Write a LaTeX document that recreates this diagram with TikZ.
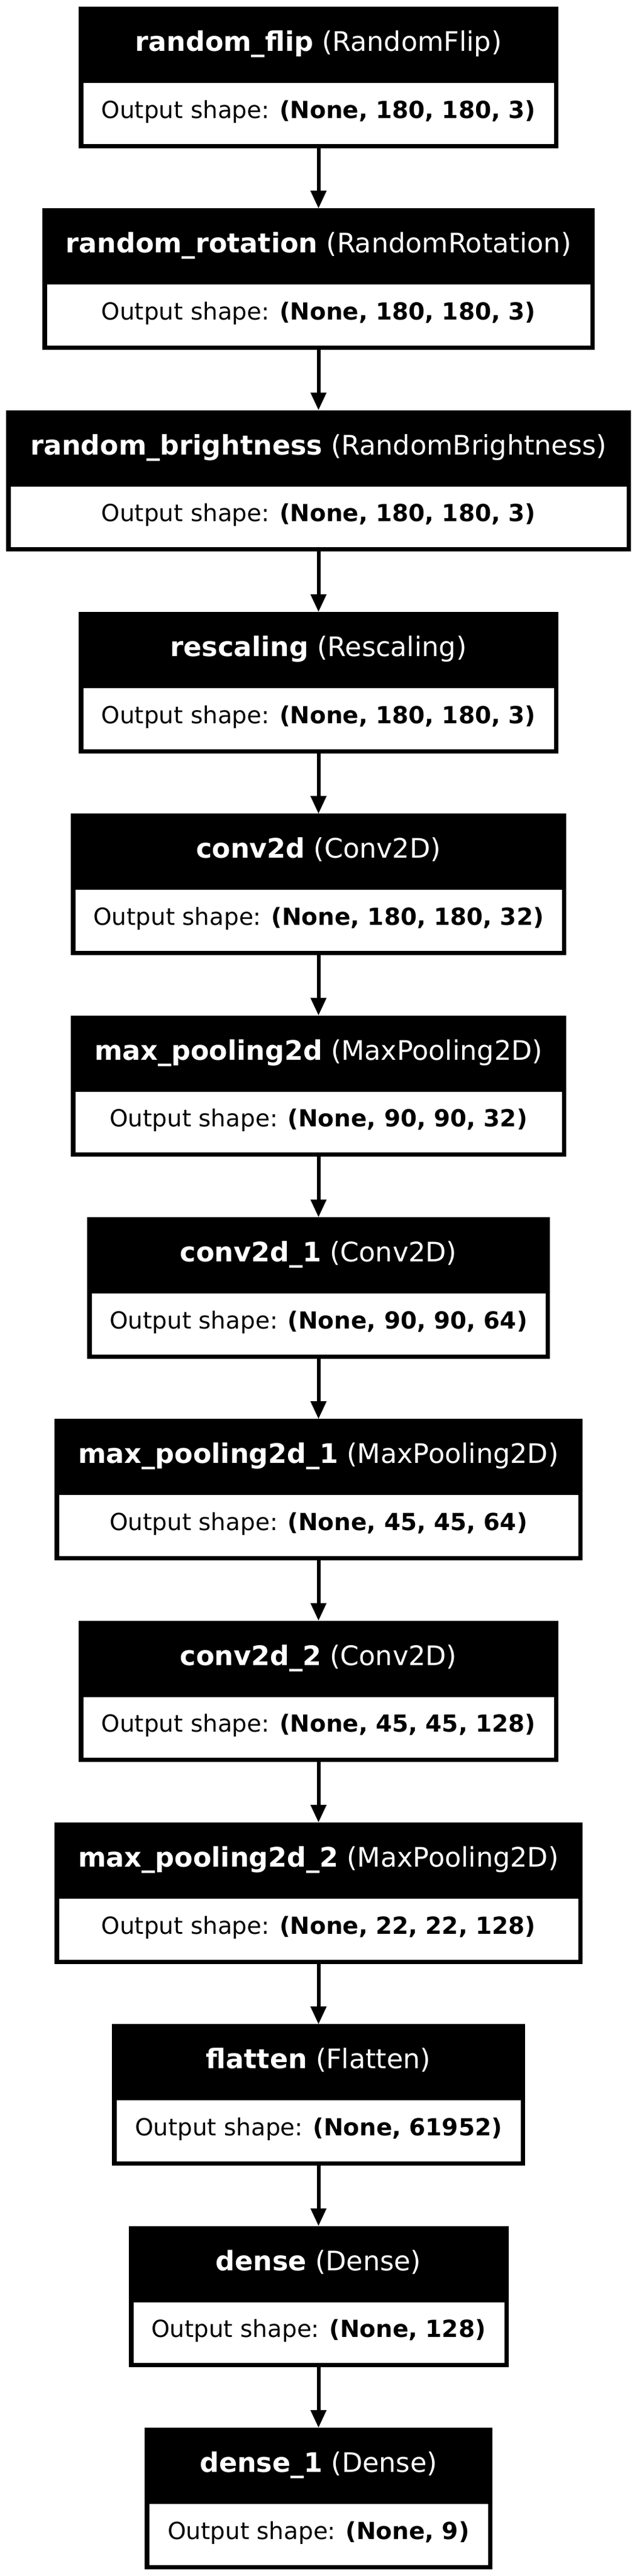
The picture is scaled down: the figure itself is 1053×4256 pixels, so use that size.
\documentclass[tikz,border=0pt]{standalone}
\usepackage{fontspec}
\setmainfont{DejaVu Sans}
\usetikzlibrary{arrows.meta}
\tikzset{
  layerbox/.style={rectangle, fill=black, inner sep=0pt, outer sep=0pt, minimum height=233.5*0.36pt},
  txt/.style={anchor=base, inner sep=0pt, outer sep=0pt, font=\fontsize{14}{17}\selectfont},
  headtxt/.style={txt, text=white, font=\fontsize{16}{19}\selectfont},
  conn/.style={line width=2.16pt, -{Triangle[length=10.5pt,width=9pt]}}
}
\newcommand{\kerasbox}[6]{%
  \pgfmathsetmacro{\kt}{11+#2*333.333}%
  \pgfmathsetmacro{\kw}{2*(526.5-#3)}%
  \node[layerbox, minimum width=\kw*0.36pt, anchor=north] (#1) at (526.5,\kt) {};
  \fill[white] (#3+8,\kt+126) rectangle (1053-#3-7,\kt+226.5);
  \node[headtxt] (#1h) at (526.5,\kt+73.5) {\textbf{#4} (#5)};
  \node[txt] (#1o) at (526.5,\kt+184) {Output shape: \textbf{#6}};
}
\begin{document}
\begin{tikzpicture}[x=0.36pt, y=-0.36pt]
\useasboundingbox (0,0) rectangle (1053,4256);
\kerasbox{b1}{0}{130}{random\_flip}{RandomFlip}{(None, 180, 180, 3)}
\kerasbox{b2}{1}{69.6}{random\_rotation}{RandomRotation}{(None, 180, 180, 3)}
\kerasbox{b3}{2}{9.6}{random\_brightness}{RandomBrightness}{(None, 180, 180, 3)}
\kerasbox{b4}{3}{130}{rescaling}{Rescaling}{(None, 180, 180, 3)}
\kerasbox{b5}{4}{117}{conv2d}{Conv2D}{(None, 180, 180, 32)}
\kerasbox{b6}{5}{117}{max\_pooling2d}{MaxPooling2D}{(None, 90, 90, 32)}
\kerasbox{b7}{6}{144.3}{conv2d\_1}{Conv2D}{(None, 90, 90, 64)}
\kerasbox{b8}{7}{90.2}{max\_pooling2d\_1}{MaxPooling2D}{(None, 45, 45, 64)}
\kerasbox{b9}{8}{130}{conv2d\_2}{Conv2D}{(None, 45, 45, 128)}
\kerasbox{b10}{9}{90.2}{max\_pooling2d\_2}{MaxPooling2D}{(None, 22, 22, 128)}
\kerasbox{b11}{10}{185}{flatten}{Flatten}{(None, 61952)}
\kerasbox{b12}{11}{212.5}{dense}{Dense}{(None, 128)}
\kerasbox{b13}{12}{239}{dense\_1}{Dense}{(None, 9)}
\foreach \a/\b in {b1/b2,b2/b3,b3/b4,b4/b5,b5/b6,b6/b7,b7/b8,b8/b9,b9/b10,b10/b11,b11/b12,b12/b13}
  \draw[conn] (\a.south) -- (\b.north);
\end{tikzpicture}
\end{document}
